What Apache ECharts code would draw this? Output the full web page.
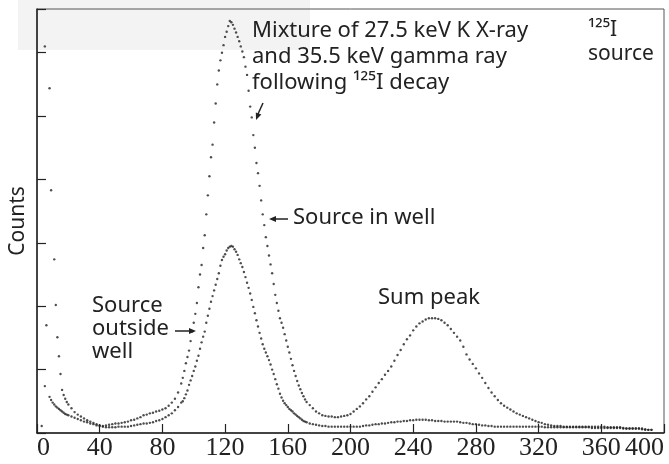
<!DOCTYPE html>
<html><head><meta charset="utf-8">
<script src="https://cdn.jsdelivr.net/npm/echarts@6/dist/echarts.min.js"></script>
<style>html,body{margin:0;padding:0;background:#fff}#c{width:669px;height:464px}</style>
</head><body><div id="c"></div>
<script>
// channel numbers (x axis)
const channels = [
  0,1,2,3,4,5,6,7,8,9,10,11,12,13,14,15,16,17,18,19,20,
  22,24,26,28,30,32,34,36,38,40,42,44,46,48,50,52,54,56,58,60,
  62,64,66,68,70,72,74,76,78,80,82,84,86,88,90,92,
  93,94,95,96,97,98,99,100,101,102,103,104,105,106,107,108,109,110,111,112,
  113,114,115,116,117,118,119,120,121,122,123,124,125,126,127,128,129,130,131,132,
  133,134,135,136,137,138,139,140,141,142,143,144,145,146,147,148,149,150,151,152,
  153,154,155,156,157,158,159,160,161,162,163,164,165,166,167,168,169,170,171,172,
  174,176,178,180,182,184,186,188,190,192,194,196,198,200,202,204,206,208,210,212,
  214,216,218,220,222,224,226,228,230,232,234,236,238,240,242,244,246,248,250,252,
  254,256,258,260,262,264,266,268,270,272,274,276,278,280,282,284,286,288,290,292,
  294,296,298,300,302,304,306,308,310,312,314,316,318,320,322,324,326,328,330,332,
  334,336,338,340,342,344,346,348,350,352,354,356,358,360,362,364,366,368,370,372,
  374,376,378,380,382,384,386,388,390,392,394,396,398,400
];
// Source in well
const countsInWell = [
  null,null,null,null,null,6.1,null,null,5.44,3.83,null,2.74,2.02,1.51,1.21,0.93,0.68,0.60,0.54,0.49,0.45,
  0.39,0.33,0.29,0.26,0.23,0.20,0.18,0.16,0.14,0.12,
  0.11,0.12,0.13,0.14,0.15,0.15,0.16,0.17,0.18,0.20,
  0.21,0.23,0.25,0.28,0.29,0.31,0.32,0.34,0.35,0.37,
  0.39,0.43,0.48,0.54,0.64,0.78,
  0.87,0.98,1.10,1.20,1.30,1.45,1.60,1.74,1.88,2.05,
  2.30,2.50,2.65,2.92,3.12,3.45,3.75,4.05,4.35,4.55,
  4.90,5.20,5.50,5.72,5.88,6.00,6.12,6.25,6.33,6.42,
  6.50,6.48,6.44,6.38,6.32,6.25,6.18,6.10,6.02,5.93,
  5.78,5.65,5.40,5.15,4.98,4.70,4.50,4.26,4.10,3.90,
  3.67,3.45,3.28,3.09,2.95,2.80,2.66,2.52,2.35,2.18,
  2.05,1.93,1.81,1.74,1.66,1.56,1.46,1.36,1.27,1.17,
  1.07,0.98,0.90,0.82,0.75,0.69,0.63,0.58,0.53,0.49,
  0.44,0.39,0.34,0.31,0.28,0.27,0.26,0.26,0.25,0.25,
  0.26,0.27,0.28,0.30,0.34,0.38,0.42,0.47,0.53,0.58,
  0.65,0.72,0.79,0.85,0.92,0.98,1.05,1.14,1.23,1.31,
  1.40,1.48,1.54,1.62,1.68,1.73,1.76,1.79,1.81,1.81,
  1.81,1.80,1.78,1.74,1.70,1.64,1.58,1.52,1.46,1.36,
  1.24,1.16,1.09,1.02,0.94,0.87,0.79,0.71,0.64,0.58,
  0.52,0.47,0.43,0.40,0.37,0.34,0.31,0.29,0.27,0.25,
  0.23,0.21,0.19,0.17,0.16,0.14,0.13,0.12,0.11,0.11,
  0.11,0.10,0.10,0.10,0.10,0.10,0.10,0.10,0.10,0.10,
  0.10,0.10,0.10,0.10,0.10,0.09,0.09,0.09,0.09,0.09,
  0.08,0.07,0.07,0.07,0.07,0.07,0.07,0.05,0.05,0.05,
  null,null,null,null
];
// Source outside well
const countsOutsideWell = [
  null,null,null,0.11,null,0.74,1.70,null,0.57,0.52,0.48,0.45,0.42,0.40,0.38,0.36,0.34,0.32,0.30,0.29,0.28,
  0.26,0.24,0.22,0.20,0.18,0.17,0.15,0.14,0.12,0.11,
  0.10,0.09,0.09,0.09,0.09,0.10,0.10,0.10,0.10,0.11,
  0.12,0.13,0.14,0.15,0.15,0.16,0.17,0.19,0.20,0.22,
  0.25,0.28,0.31,0.36,0.41,0.48,
  0.50,0.55,0.61,0.67,0.76,0.83,0.90,0.98,1.05,1.14,
  1.22,1.33,1.43,1.52,1.60,1.74,1.85,1.96,2.07,2.16,
  2.25,2.34,2.43,2.52,2.64,2.73,2.78,2.82,2.88,2.92,
  2.94,2.95,2.94,2.90,2.86,2.81,2.74,2.68,2.62,2.54,
  2.46,2.37,2.29,2.20,2.10,1.99,1.89,1.78,1.68,1.58,
  1.49,1.40,1.33,1.27,1.21,1.15,1.08,1.00,0.93,0.85,
  0.77,0.70,0.62,0.56,0.51,0.47,0.44,0.41,0.38,0.36,
  0.34,0.31,0.29,0.27,0.25,0.23,0.21,0.19,0.18,0.17,
  0.15,0.14,0.13,0.12,0.11,0.11,0.10,0.10,0.10,0.10,
  0.10,0.10,0.10,0.10,0.10,0.10,0.10,0.11,0.12,0.12,
  0.13,0.14,0.14,0.15,0.15,0.16,0.17,0.17,0.18,0.18,
  0.19,0.19,0.20,0.20,0.21,0.21,0.21,0.21,0.20,0.20,
  0.19,0.19,0.19,0.18,0.18,0.18,0.18,0.18,0.17,0.16,
  0.16,0.15,0.14,0.14,0.13,0.12,0.12,0.11,0.11,0.10,
  0.10,0.10,0.10,0.10,0.10,0.10,0.10,0.10,0.10,0.10,
  0.10,0.10,0.10,0.10,0.10,0.09,0.09,0.09,0.09,0.09,
  0.09,0.09,0.09,0.09,0.09,0.09,0.09,0.09,0.09,0.09,
  0.08,0.08,0.08,0.08,0.08,0.08,0.08,0.08,0.08,0.08,
  0.07,0.07,0.07,0.07,0.07,0.07,0.06,0.06,0.05,0.05,
  null,null,null,null
];
const xMin = 0, xMax = 400, xStep = 40;
const yMax = 6.69;

function pairs(ys) {
  const out = [];
  channels.forEach((c, i) => { if (ys[i] !== null) out.push([c, ys[i]]); });
  return out;
}

const ink = '#222';
const serif = '"Liberation Serif", "DejaVu Serif", serif';
const sans = '"Noto Sans", sans-serif';
const chart = echarts.init(document.getElementById('c'), null, { renderer: 'canvas' });

function arrowHead(tipX, tipY, dx, dy, len, half) {
  const n = Math.hypot(dx, dy); const ux = dx / n, uy = dy / n;
  const bx = tipX - ux * len, by = tipY - uy * len;
  return [[tipX, tipY], [bx - uy * half, by + ux * half], [bx + uy * half, by - ux * half]];
}

chart.setOption({
  animation: false,
  backgroundColor: '#fff',
  grid: { left: 32, right: 5, top: 9, bottom: 31, show: true, borderColor: '#555', borderWidth: 1, backgroundColor: 'transparent' },
  xAxis: {
    type: 'value', min: xMin, max: xMax, interval: xStep,
    axisLine: { show: true, lineStyle: { color: ink, width: 1.5 } },
    axisTick: { show: true, inside: true, length: 9, lineStyle: { color: ink, width: 1.2 } },
    axisLabel: { fontFamily: serif, fontSize: 26, color: ink, margin: 2, alignMinLabel: 'left', alignMaxLabel: 'right' },
    splitLine: { show: false }
  },
  yAxis: {
    type: 'value', min: 0, max: yMax, interval: 1,
    name: 'Counts', nameLocation: 'middle', nameGap: 8,
    nameTextStyle: { fontFamily: sans, fontSize: 21, color: ink },
    axisLine: { show: true, lineStyle: { color: ink, width: 1.5 } },
    axisTick: { show: true, inside: true, length: 9, lineStyle: { color: ink, width: 1.2 } },
    axisLabel: { show: false },
    splitLine: { show: false }
  },
  series: [
    { name: 'Source in well', type: 'scatter', data: pairs(countsInWell), symbol: 'circle', symbolSize: 2.4, itemStyle: { color: ink }, clip: true },
    { name: 'Source outside well', type: 'scatter', data: pairs(countsOutsideWell), symbol: 'circle', symbolSize: 2.4, itemStyle: { color: ink }, clip: true }
  ],
  graphic: [
    { type: 'rect', z: -10, silent: true, shape: { x: 18, y: 0, width: 292, height: 50 }, style: { fill: '#f3f3f3' } },
    { type: 'text', x: 252, y: 18, style: { text: 'Mixture of 27.5 keV K X-ray\nand 35.5 keV gamma ray\nfollowing \u00b9\u00b2\u2075I decay', font: '22px ' + sans, fill: ink, lineHeight: 26, verticalAlign: 'top' } },
    { type: 'text', x: 588, y: 18, style: { text: '\u00b9\u00b2\u2075I\nsource', font: '21px ' + sans, fill: ink, lineHeight: 24, verticalAlign: 'top' } },
    { type: 'text', x: 293, y: 207, style: { text: 'Source in well', font: '22px ' + sans, fill: ink, verticalAlign: 'top' } },
    { type: 'text', x: 378, y: 287, style: { text: 'Sum peak', font: '22px ' + sans, fill: ink, verticalAlign: 'top' } },
    { type: 'text', x: 92, y: 294, style: { text: 'Source\noutside\nwell', font: '22px ' + sans, fill: ink, lineHeight: 23, verticalAlign: 'top' } },
    { type: 'line', shape: { x1: 288, y1: 219, x2: 274, y2: 219 }, style: { stroke: ink, lineWidth: 1.5 } },
    { type: 'polygon', shape: { points: arrowHead(269, 219, -1, 0, 7, 3) }, style: { fill: ink } },
    { type: 'line', shape: { x1: 175, y1: 331, x2: 190, y2: 331 }, style: { stroke: ink, lineWidth: 1.5 } },
    { type: 'polygon', shape: { points: arrowHead(196, 331, 1, 0, 7, 3) }, style: { fill: ink } },
    { type: 'line', shape: { x1: 263, y1: 103, x2: 258, y2: 114 }, style: { stroke: ink, lineWidth: 1.5 } },
    { type: 'polygon', shape: { points: arrowHead(256, 120, -0.4, 1, 7, 3) }, style: { fill: ink } }
  ]
});
</script>
</body></html>
